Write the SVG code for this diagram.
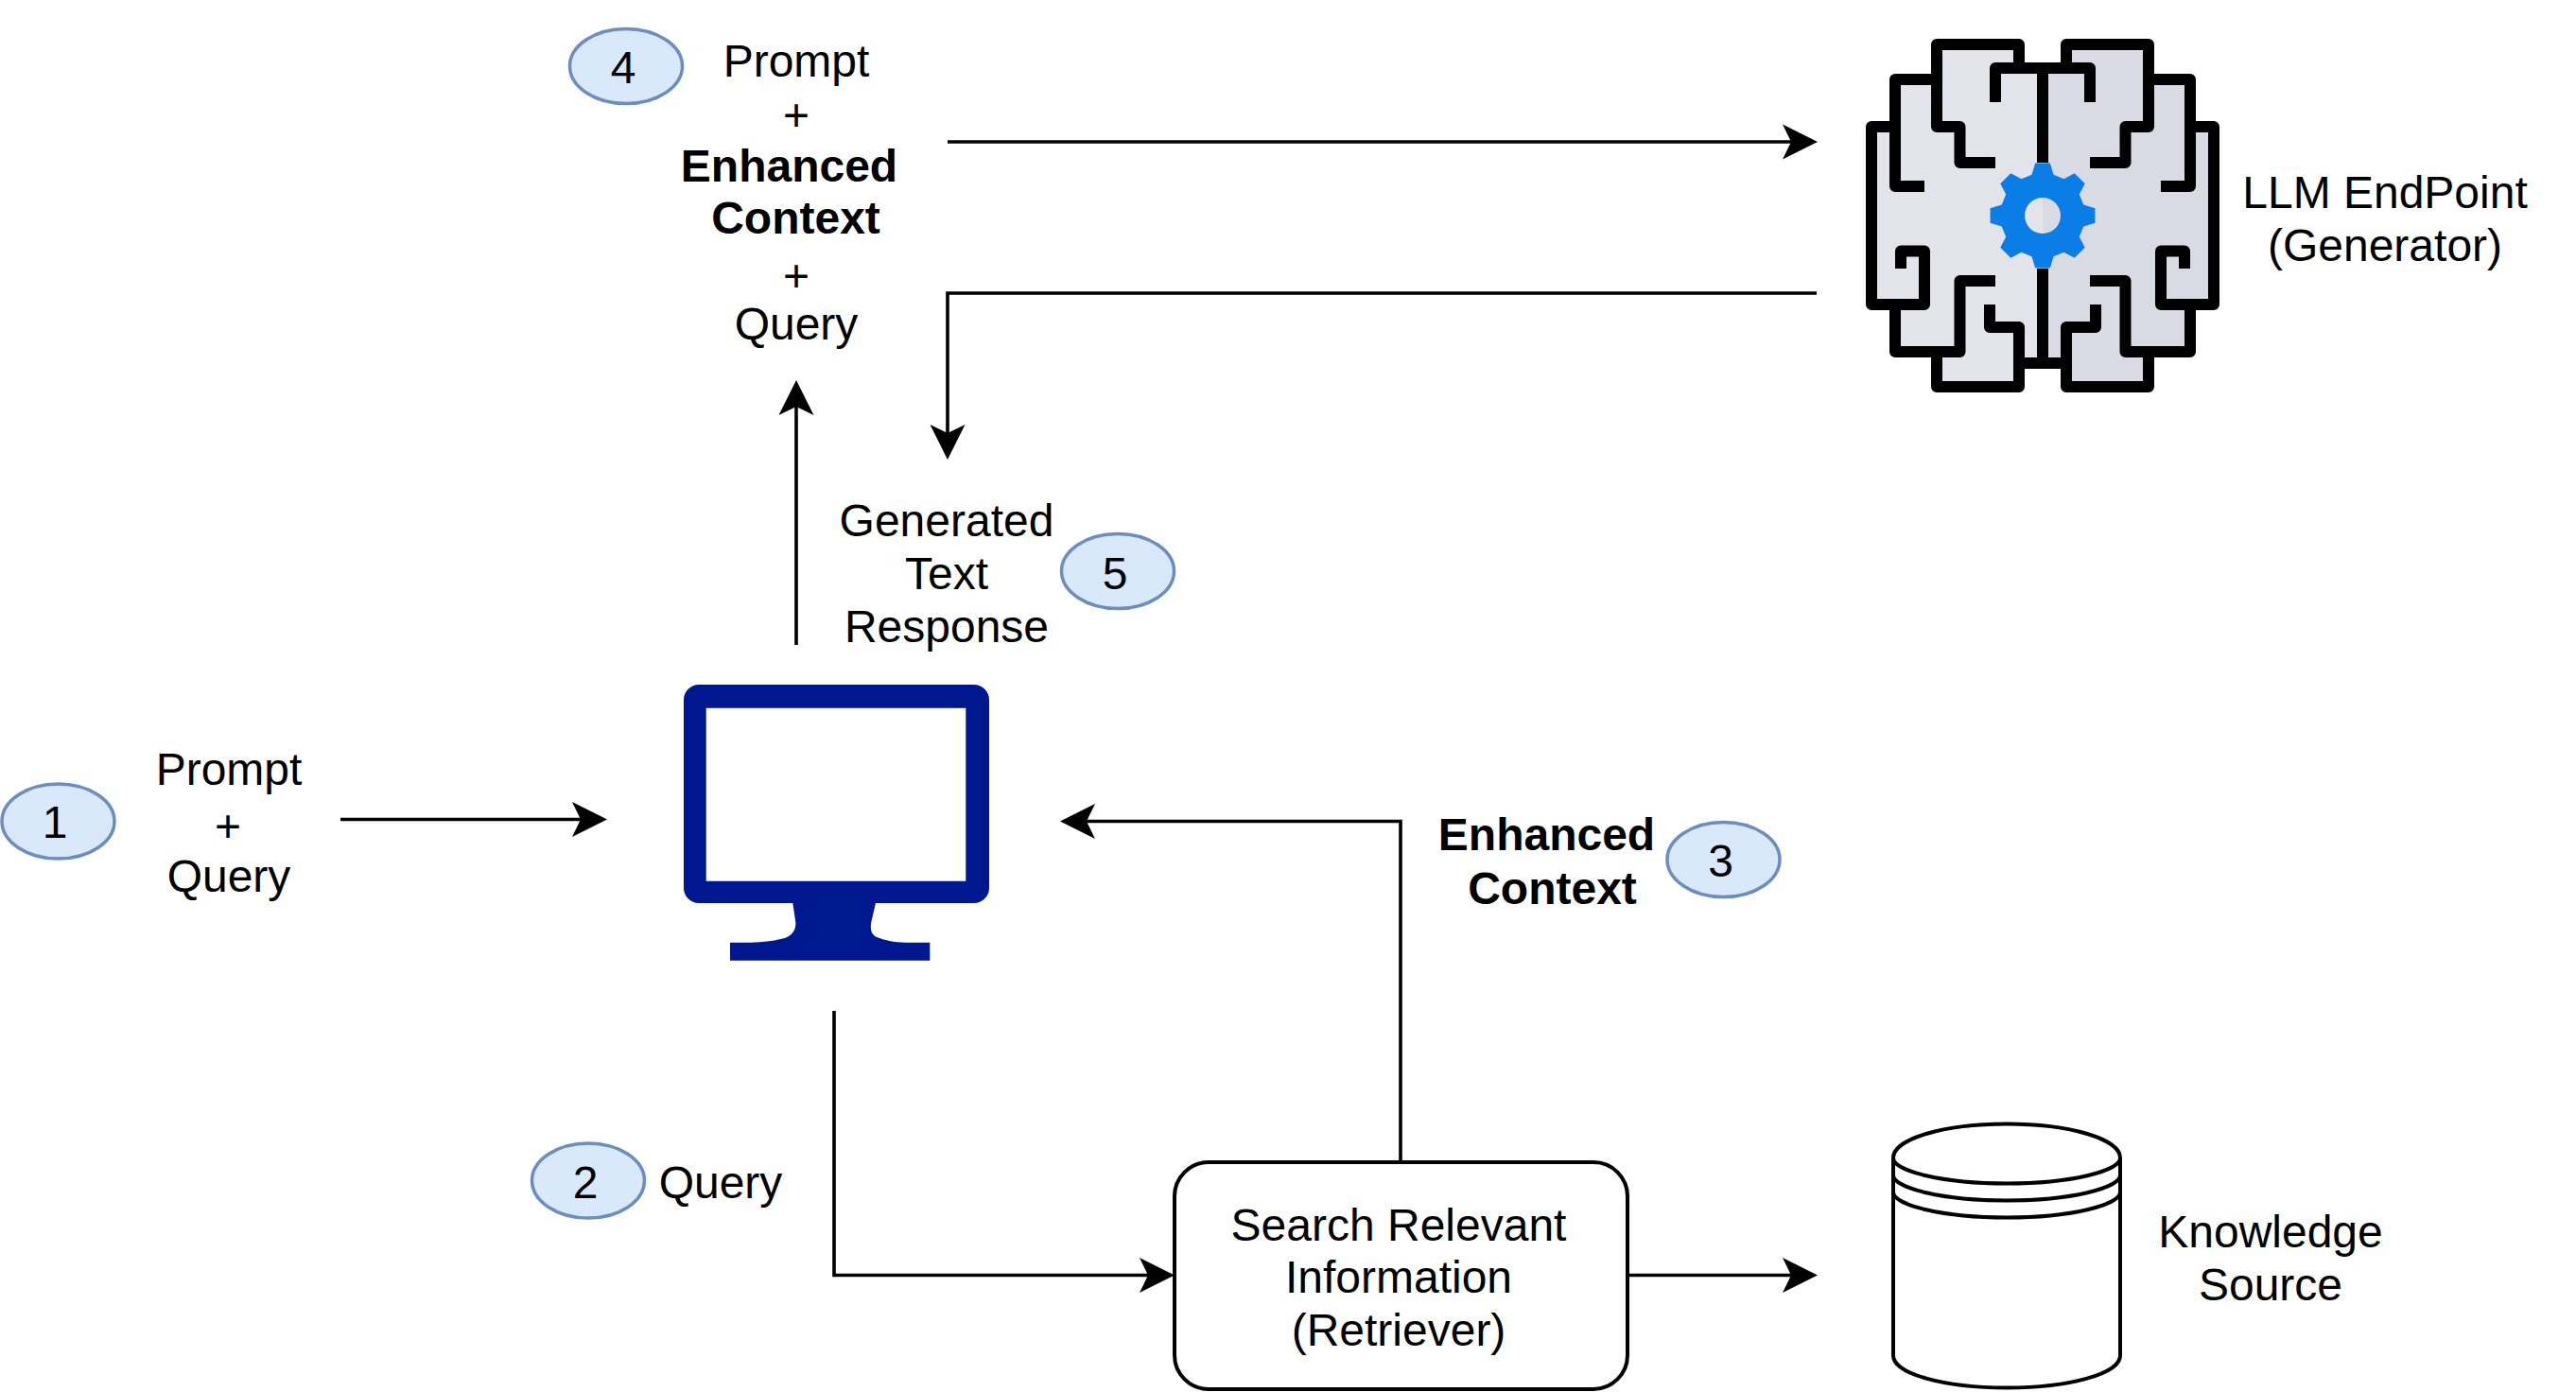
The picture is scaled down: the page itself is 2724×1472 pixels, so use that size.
<svg xmlns="http://www.w3.org/2000/svg" width="2724" height="1472" viewBox="0 0 2724 1472">
<style>
text{font-family:"Liberation Sans",Arial,Helvetica,sans-serif;font-size:48px;fill:#000;text-anchor:middle}
.b{font-weight:700}
.badge{fill:#dae8fc;stroke:#6c8ebf;stroke-width:3.5}
.c{fill:none;stroke:#000;stroke-width:3.6;marker-end:url(#a)}
.s{fill:none;stroke:#000;stroke-width:4}
.br{fill:none;stroke:#000;stroke-width:12;stroke-linejoin:round}
</style>
<defs>
<marker id="a" markerUnits="userSpaceOnUse" markerWidth="40" markerHeight="40" viewBox="0 -20 40 40" refX="9" refY="0" orient="auto"><path d="M0-18.500L37 0 0 18.500 9 0Z" fill="#000"/></marker>
</defs>
<rect width="2724" height="1472" fill="#fff"/>
<g id="connectors">
<path class="c" d="M360 866.500H614"/>
<path class="c" d="M882 1069V1348.500H1214"/>
<path class="c" d="M1481 1229V868.500H1149"/>
<path class="c" d="M1722 1348.500H1894"/>
<path class="c" d="M842 682V430"/>
<path class="c" d="M1002 150H1894"/>
<path class="c" d="M1921 310H1002V458"/>
</g>
<g id="step1"><ellipse class="badge" cx="61.500" cy="868.500" rx="59.500" ry="39.500"/><text x="58" y="886">1</text></g>
<g id="step2"><ellipse class="badge" cx="622" cy="1248.500" rx="59.500" ry="39.500"/><text x="619" y="1267">2</text></g>
<g id="step3"><ellipse class="badge" cx="1822.500" cy="909" rx="59.500" ry="39.500"/><text x="1819.500" y="927">3</text></g>
<g id="step4"><ellipse class="badge" cx="662" cy="70" rx="59.500" ry="39.500"/><text x="659" y="88">4</text></g>
<g id="step5"><ellipse class="badge" cx="1182" cy="604" rx="59.500" ry="39.500"/><text x="1179" y="623">5</text></g>
<g id="input-label"><text x="242" y="830">Prompt</text><text x="241" y="889.500">+</text><text x="242" y="943">Query</text></g>
<g id="prompt-label"><text x="842" y="81">Prompt</text><text x="842" y="138">+</text><text class="b" x="834.500" y="192">Enhanced</text><text class="b" x="841.500" y="247">Context</text><text x="842" y="307.500">+</text><text x="842" y="359">Query</text></g>
<g id="response-label"><text x="1001" y="567">Generated</text><text x="1001" y="623">Text</text><text x="1001" y="679">Response</text></g>
<g id="query-label"><text x="762" y="1267">Query</text></g>
<g id="context-label"><text class="b" x="1635.500" y="899">Enhanced</text><text class="b" x="1641.500" y="956">Context</text></g>
<g id="client">
<path fill="#00188f" fill-rule="evenodd" d="M739 724H1030a16 16 0 0 1 16 16V939a16 16 0 0 1-16 16H926L921.300 975C920 982 921 988 927 991 935 994 945 996.700 958 996.700H983.300V1015.700H772V996.700H790C800 996.700 815 996 830 992 836 990 842 985 841.300 975L838.300 955H739a16 16 0 0 1-16-16V740a16 16 0 0 1 16-16ZM746.700 748.700V931.700H1021.300V748.700Z"/>
</g>
<g id="retriever">
<rect x="1242" y="1229" width="479" height="240" rx="36" fill="#fff" stroke="#000" stroke-width="4"/>
<text x="1479" y="1312">Search Relevant</text><text x="1479" y="1366.500">Information</text><text x="1479" y="1422.500">(Retriever)</text>
</g>
<g id="knowledge-source">
<path class="s" fill="#fff" d="M2002 1224.500C2002 1204.500 2055 1188.500 2122 1188.500S2242 1204.500 2242 1224.500V1433.500C2242 1452.500 2189 1467.500 2122 1467.500S2002 1452.500 2002 1433.500Z"/>
<path class="s" d="M2002 1224.500C2002 1238.500 2055 1251.500 2122 1251.500S2242 1238.500 2242 1224.500M2002 1242.500C2002 1256.500 2055 1269.500 2122 1269.500S2242 1256.500 2242 1242.500M2002 1260.500C2002 1274.500 2055 1287.500 2122 1287.500S2242 1274.500 2242 1260.500"/>
<text x="2401" y="1318.500">Knowledge</text><text x="2401" y="1374.500">Source</text>
</g>
<g id="llm">
<path fill="#e3e4ea" d="M2160 72H2135V47H2048V84H2004V134H1979V322H2004V372H2048V409H2135V384H2160Z"/>
<path fill="#d9dae3" d="M2160 72H2185V47H2272V84H2316V134H2341V322H2316V372H2272V409H2185V384H2160Z"/>
<path class="br" d="M2110 108V72H2210V108M2135 72V47H2048V134H2072.500V172H2110M2048 84H2004V197H2035M2004 134H1979V322H2035V265.500H2010V284M2004 322V372H2072.500V297H2110M2048 372V409H2135V346H2104V322M2135 384H2185M2185 72V47H2272V134H2247.500V172H2210M2272 84H2316V197H2285M2316 134H2341V322H2285V265.500H2310V284M2316 322V372H2247.500V297H2210M2272 372V409H2185V346H2216V322M2160 72V172M2160 284V384"/>
<polygon fill="#0a7de6" transform="translate(2160 228) scale(56)" points=".773,.207 .99,.139 .99,-.139 .773,-.207 .693,-.4 .799,-.602 .602,-.799 .4,-.693 .207,-.773 .139,-.99 -.139,-.99 -.207,-.773 -.4,-.693 -.602,-.799 -.799,-.602 -.693,-.4 -.773,-.207 -.99,-.139 -.99,.139 -.773,.207 -.693,.4 -.799,.602 -.602,.799 -.4,.693 -.207,.773 -.139,.99 .139,.99 .207,.773 .4,.693 .602,.799 .799,.602 .693,.4"/>
<path fill="#e3e4ea" d="M2160 209a19 19 0 0 0 0 38Z"/><path fill="#d9dae3" d="M2160 209a19 19 0 0 1 0 38Z"/>
<text x="2522" y="220">LLM EndPoint</text><text x="2522" y="276">(Generator)</text>
</g>
</svg>
